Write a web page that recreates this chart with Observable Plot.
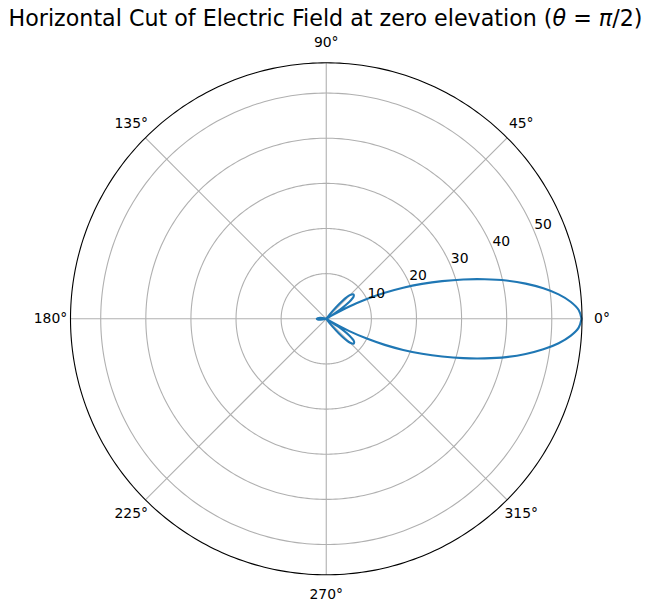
<!DOCTYPE html>
<html>
<head>
<meta charset="utf-8">
<script src="https://cdn.jsdelivr.net/npm/d3@7"></script>
<script src="https://cdn.jsdelivr.net/npm/@observablehq/plot@0.6"></script>
<style>
  html, body { margin: 0; padding: 0; background: #fff; }
  #chart svg { display: block; }
</style>
</head>
<body>
<div id="chart"></div>
<script>
// Azimuth angles (degrees) and electric-field magnitude
const anglesDeg = [
  0, 2, 4, 6, 8, 10, 12, 14, 16, 18, 20, 22, 24, 26, 28, 30, 31,
  33, 36, 39, 42, 45, 48, 51, 53,
  60, 90, 120, 150, 162, 168, 172, 176, 180, 184, 188, 192, 198, 210, 240, 270, 300,
  307, 309, 312, 315, 318, 321, 324, 327, 329,
  330, 332, 334, 336, 338, 340, 342, 344, 346, 348, 350, 352, 354, 356, 358, 360
];
const fieldValues = [
  56.6, 56.0, 54.3, 51.8, 48.6, 44.9, 40.8, 36.2, 31.6, 27.0, 22.6, 18.4, 14.2, 10.0, 5.8, 1.6, 0,
  3.2, 6.2, 7.8, 8.1, 7.4, 5.4, 2.2, 0,
  0, 0, 0, 0, 0, 0.8, 1.4, 1.9, 2.1, 1.9, 1.4, 0.8, 0, 0, 0, 0, 0,
  0, 2.3, 5.5, 7.5, 8.2, 7.9, 6.3, 3.3, 0,
  1.6, 5.8, 10.0, 14.2, 18.4, 22.6, 27.0, 31.6, 36.2, 40.8, 44.9, 48.6, 51.8, 54.3, 56.0, 56.6
];

const ringTicks = [10, 20, 30, 40, 50];
const ringLabels = ["10", "20", "30", "40", "50"];
const spokeAngles = [0, 45, 90, 135, 180, 225, 270, 315];
const spokeLabels = ["0°", "45°", "90°", "135°", "180°", "225°", "270°", "315°"];
const rMax = 56.7;
const rLabelAngle = 22.5;
const titleParts = [
  {t: "Horizontal Cut of Electric Field at zero elevation (", italic: false},
  {t: "θ", italic: true},
  {t: " = ", italic: false},
  {t: "π", italic: true},
  {t: "/2)", italic: false}
];

const rad = d => d * Math.PI / 180;
const px = (r, a) => r * Math.cos(rad(a));
const py = (r, a) => r * Math.sin(rad(a));

const pattern = anglesDeg.map((a, i) => ({a, r: fieldValues[i]}));
const circleSteps = d3.range(0, 361, 1);
const rings = ringTicks.flatMap(r => circleSteps.map(a => ({r, a})));
const outer = circleSteps.map(a => ({r: rMax, a}));
const labelR = rMax + 20 / 4.51;

const chart = Plot.plot({
  width: 651,
  height: 611,
  marginLeft: 70,
  marginRight: 69.5,
  marginTop: 62.3,
  marginBottom: 36.7,
  x: {domain: [-rMax, rMax], axis: null},
  y: {domain: [-rMax, rMax], axis: null},
  style: {fontFamily: "DejaVu Sans", background: "white", overflow: "visible"},
  marks: [
    Plot.line(rings, {x: d => px(d.r, d.a), y: d => py(d.r, d.a), z: "r", stroke: "#b0b0b0", strokeWidth: 1.1}),
    Plot.link(spokeAngles, {x1: () => 0, y1: () => 0, x2: a => px(rMax, a), y2: a => py(rMax, a), stroke: "#b0b0b0", strokeWidth: 1.1}),
    Plot.line(pattern, {x: d => px(d.r, d.a), y: d => py(d.r, d.a), stroke: "#1f77b4", strokeWidth: 2.1, curve: "catmull-rom", strokeLinejoin: "round"}),
    Plot.line(outer, {x: d => px(d.r, d.a), y: d => py(d.r, d.a), stroke: "black", strokeWidth: 1.1}),
    Plot.text(ringTicks, {x: r => px(r, rLabelAngle), y: r => py(r, rLabelAngle), text: (d, i) => ringLabels[i], dx: 8.4, dy: -8.3, fill: "black", fontSize: 13.9, textAnchor: "middle"}),
    Plot.text(spokeAngles, {x: a => px(labelR, a), y: a => py(labelR, a), text: (d, i) => spokeLabels[i], fill: "black", fontSize: 13.9, textAnchor: "middle"})
  ]
});

const svg = d3.select(chart);
const title = svg.append("text")
  .attr("x", 325.5)
  .attr("y", 26)
  .attr("text-anchor", "middle")
  .attr("font-family", "DejaVu Sans")
  .attr("font-size", 22.2)
  .attr("fill", "black");
titleParts.forEach(p => {
  const ts = title.append("tspan").text(p.t);
  if (p.italic) ts.attr("font-style", "italic");
});

document.getElementById("chart").appendChild(chart);
</script>
</body>
</html>
